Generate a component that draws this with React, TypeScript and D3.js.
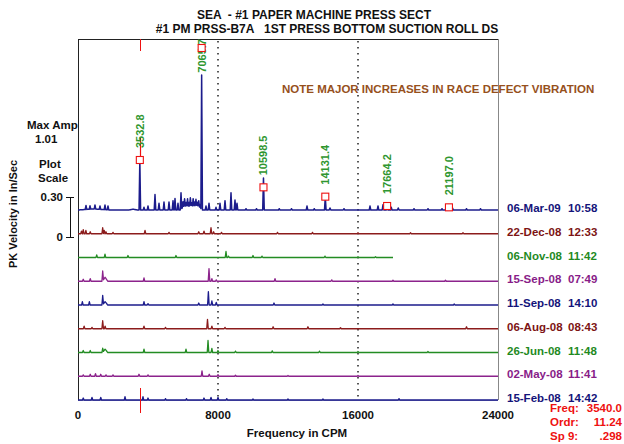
import React, { useEffect, useRef } from 'react';
import * as d3 from 'd3';

// spectra: one waterfall trace per survey date
const dates = ['06-Mar-09', '22-Dec-08', '06-Nov-08', '15-Sep-08', '11-Sep-08', '06-Aug-08', '26-Jun-08', '02-May-08', '15-Feb-08'];
const times = ['10:58', '12:33', '11:42', '07:49', '14:10', '08:43', '11:48', '11:41', '14:42'];
const traceColors = ['#1c1c8c', '#8c1c1c', '#238c23', '#8c238c', '#1c1c8c', '#8c1c1c', '#238c23', '#8c238c', '#1c1c8c'];
const labelColors = ['#14147a', '#7d1414', '#1f8a1f', '#881c88', '#14147a', '#7d1414', '#1f8a1f', '#881c88', '#14147a'];
const traceEnds = [24000, 24000, 18000, 24000, 24000, 24000, 24000, 24000, 24000];

// [cpm, in/sec, half width cpm]
const mar09 = [[900, 0.008, 900], [457, 0.03], [686, 0.025], [971, 0.03], [1257, 0.025], [1543, 0.035], [1714, 0.03], [3150, 0.006, 250],
  [3533, 0.37], [3771, 0.02], [4000, 0.03], [4400, 0.116], [4629, 0.05], [4914, 0.06], [5200, 0.06], [5429, 0.07], [5543, 0.086], [5714, 0.05],
  [5886, 0.124], [6100, 0.035, 250], [6450, 0.03, 300], [6800, 0.03, 300], [6000, 0.04], [6090, 0.05], [6180, 0.03], [6260, 0.06],
  [6340, 0.035], [6420, 0.065], [6500, 0.03], [6580, 0.06], [6660, 0.035], [6740, 0.055], [6820, 0.03], [6900, 0.05], [6980, 0.03],
  [7066, 1.01], [7314, 0.03], [7486, 0.05], [7886, 0.02], [8114, 0.05], [8400, 0.07], [8743, 0.13], [8971, 0.075], [9086, 0.05],
  [9600, 0.01], [10200, 0.01], [10599, 0.24], [11500, 0.01], [12200, 0.01], [13086, 0.03], [13500, 0.01], [14131, 0.1], [14400, 0.015],
  [15200, 0.01], [16686, 0.03], [17143, 0.03], [17429, 0.04], [17664, 0.05], [17900, 0.02], [18300, 0.015], [19200, 0.01], [20000, 0.01],
  [20800, 0.01], [21197, 0.03], [21400, 0.015], [22200, 0.01], [23000, 0.01]];
const dec08 = [[200, 0.02], [300, 0.03], [450, 0.025], [700, 0.015], [1411, 0.045], [1500, 0.025], [1600, 0.015], [2000, 0.01], [3830, 0.025],
  [5200, 0.01], [6900, 0.015], [7200, 0.02], [7600, 0.045], [7750, 0.015], [8200, 0.01], [11400, 0.01], [13400, 0.01], [16000, 0.008],
  [19000, 0.008], [22000, 0.008]];
const nov08 = [[1069, 0.02], [1543, 0.025], [2857, 0.015], [5600, 0.015], [8457, 0.045], [8600, 0.01], [10000, 0.015], [10514, 0.01],
  [14114, 0.01], [16000, 0.006], [17000, 0.006]];
const sep15 = [[300, 0.015], [700, 0.02], [1411, 0.075], [1550, 0.03, 150], [3771, 0.025], [7486, 0.095], [7650, 0.02], [7900, 0.01],
  [11257, 0.02], [14500, 0.01], [18000, 0.008], [21000, 0.008]];
const sep11 = [[250, 0.025], [650, 0.025], [1411, 0.07], [1550, 0.025, 150], [3771, 0.025], [4000, 0.01], [6900, 0.015], [7450, 0.1],
  [7650, 0.03], [7900, 0.02], [11200, 0.015], [14000, 0.008], [18000, 0.008], [21500, 0.008]];
const aug08 = [[350, 0.02], [800, 0.01], [1411, 0.06], [1550, 0.02], [3771, 0.02], [5000, 0.01], [7400, 0.07], [7650, 0.02], [8400, 0.01],
  [11150, 0.015], [13140, 0.015], [15000, 0.008], [22200, 0.015]];
const jun08 = [[300, 0.015], [700, 0.015], [1411, 0.03], [1550, 0.025, 150], [3771, 0.025], [6171, 0.025], [7430, 0.09], [7650, 0.03],
  [8000, 0.015], [9000, 0.01], [11100, 0.012], [13800, 0.01], [16000, 0.008], [20000, 0.008]];
const may08 = [[300, 0.01], [700, 0.015], [1000, 0.02], [1300, 0.015], [1600, 0.01], [2000, 0.01], [3486, 0.015], [4000, 0.01],
  [7086, 0.04], [7500, 0.015], [8000, 0.012], [9000, 0.008], [12000, 0.006], [16000, 0.006]];
const feb08 = [[300, 0.015], [800, 0.02], [1300, 0.02], [2686, 0.025], [3714, 0.025], [4000, 0.015], [5000, 0.01], [6200, 0.01],
  [7200, 0.015], [7600, 0.02], [8000, 0.02], [8500, 0.01], [10000, 0.008], [12000, 0.008], [14000, 0.008], [18343, 0.01]];
const spectra = [mar09, dec08, nov08, sep15, sep11, aug08, jun08, may08, feb08];

const peakFreqs = [3532.8, 7065.7, 10598.5, 14131.4, 17664.2, 21197.0];
const markerAmps = [0.375, 1.215, 0.17, 0.10, 0.03, 0.02];
const freqTicks = [0, 8000, 16000, 24000];
const guideFreqs = [8000, 16000];
const cursorFreq = 3540;
const readout = [['Freq:', '3540.0'], ['Ordr:', '11.24'], ['Sp 9:', '.298']];

const FONT = '"Liberation Sans", Arial, sans-serif';

export default function App() {
  const ref = useRef(null);

  useEffect(() => {
    const svg = d3.select(ref.current);
    svg.selectAll('*').remove();

    const x = d3.scaleLinear().domain([0, 24000]).range([78, 498]);
    const base = d3.scalePoint().domain(dates).range([210, 400]);
    const amp = d3.scaleLinear().domain([0, 0.30]).range([0, 40]);
    const top = 39, bottom = 400;

    const txt = (s, px, py, size, color, anchor = 'start') =>
      svg.append('text').attr('x', px).attr('y', py).attr('font-family', FONT).attr('font-weight', 'bold')
        .attr('font-size', size).attr('fill', color).attr('text-anchor', anchor).text(s);

    // titles
    txt('SEA  - #1 PAPER MACHINE PRESS SECT', 314, 19, 12, '#111', 'middle').attr('xml:space', 'preserve');
    txt('#1 PM PRSS-B7A   1ST PRESS BOTTOM SUCTION ROLL DS', 327, 33, 12, '#111', 'middle').attr('xml:space', 'preserve');

    // frame
    svg.append('line').attr('x1', 78).attr('x2', 498).attr('y1', top + 0.5).attr('y2', top + 0.5).attr('stroke', '#222');
    svg.append('line').attr('x1', 78.5).attr('x2', 78.5).attr('y1', top).attr('y2', bottom).attr('stroke', '#222');
    svg.append('line').attr('x1', 498.5).attr('x2', 498.5).attr('y1', top).attr('y2', bottom).attr('stroke', '#888');
    svg.append('line').attr('x1', 78).attr('x2', 498).attr('y1', bottom + 0.5).attr('y2', bottom + 0.5).attr('stroke', '#8888bb');

    guideFreqs.forEach(f => {
      svg.append('line').attr('x1', x(f)).attr('x2', x(f)).attr('y1', top + 2).attr('y2', bottom)
        .attr('stroke', '#111').attr('stroke-width', 1.4).attr('stroke-dasharray', '1.5 4.5');
    });

    // traces
    const line = d3.line().x(d => x(d[0])).y(d => d[1]);
    spectra.forEach((peaks, i) => {
      const end = traceEnds[i];
      const fs = d3.range(0, end + 1, 12);
      peaks.forEach(p => { const w = p[2] || 45; fs.push(p[0], p[0] - w, p[0] + w); });
      const pts = fs.filter(f => f >= 0 && f <= end).sort((a, b) => a - b).map(f => {
        const v = d3.sum(peaks, p => { const w = p[2] || 45; return p[1] * Math.max(0, 1 - Math.abs(f - p[0]) / w); });
        return [f, base(dates[i]) - amp(v)];
      });
      svg.append('path').attr('d', line(pts)).attr('fill', 'none').attr('stroke', traceColors[i])
        .attr('stroke-width', i === 0 ? 1.5 : 1.3).attr('stroke-linejoin', 'round');
      txt(dates[i], 507, base(dates[i]) + 2, 11.5, labelColors[i]);
      txt(times[i], 568, base(dates[i]) + 2, 11.5, labelColors[i]);
    });

    // cursor
    const cx = Math.round(x(cursorFreq)) + 0.5;
    svg.append('line').attr('x1', cx).attr('x2', cx).attr('y1', top).attr('y2', top + 12).attr('stroke', '#ee1111');
    svg.append('line').attr('x1', cx).attr('x2', cx).attr('y1', bottom - 12).attr('y2', bottom + 13).attr('stroke', '#ee1111');
    const y0 = base(dates[0]);
    svg.append('line').attr('x1', cx).attr('x2', cx).attr('y1', y0 - amp(markerAmps[0]) - 22).attr('y2', y0 - amp(markerAmps[0]) - 3)
      .attr('stroke', '#ee1111').attr('stroke-width', 1.2);

    // peak markers + labels
    peakFreqs.forEach((f, i) => {
      const my = y0 - amp(markerAmps[i]);
      svg.append('rect').attr('x', x(f) - 3.5).attr('y', my - 3.5).attr('width', 7).attr('height', 7)
        .attr('fill', '#fff').attr('stroke', '#ee1111').attr('stroke-width', 1.1);
      const t = svg.append('text').attr('font-family', FONT).attr('font-weight', 'bold').attr('font-size', 11)
        .attr('fill', '#2f962f').attr('dy', '0.36em').text(f.toFixed(1));
      const len = t.node().getComputedTextLength();
      const ye = Math.max(my - 12, top + len);
      t.attr('x', x(f)).attr('y', ye).attr('transform', `rotate(-90, ${x(f)}, ${ye})`);
    });
    // markers stay above the labels
    svg.selectAll('rect').raise();

    txt('NOTE MAJOR INCREASES IN RACE DEFECT VIBRATION', 282, 93, 11.5, '#96501c');

    // x axis
    freqTicks.forEach(f => txt(String(f), x(f), 419, 11.5, '#111', 'middle'));
    txt('Frequency in CPM', 297, 437, 11.5, '#111', 'middle');

    // left scale block
    txt('Max Amp', 27, 129, 11.5, '#111');
    txt('1.01', 35, 143, 11.5, '#111');
    txt('Plot', 39, 168, 11.5, '#111');
    txt('Scale', 38, 182, 11.5, '#111');
    const sb = 237;
    svg.append('line').attr('x1', 70.5).attr('x2', 70.5).attr('y1', sb - amp(0.30)).attr('y2', sb).attr('stroke', '#111');
    [0, 0.30].forEach(v => {
      svg.append('line').attr('x1', 66).attr('x2', 74).attr('y1', sb - amp(v) + 0.5).attr('y2', sb - amp(v) + 0.5).attr('stroke', '#111');
      txt(v === 0 ? '0' : v.toFixed(2), 63, sb - amp(v) + 4, 11.5, '#111', 'end');
    });
    txt('PK Velocity in In/Sec', 0, 0, 11, '#111', 'middle').attr('transform', 'translate(17,214) rotate(-90)');

    // cursor readout
    readout.forEach((r, i) => {
      txt(r[0], 550, 412 + i * 14, 11.5, '#ee1111');
      txt(r[1], 622, 412 + i * 14, 11.5, '#ee1111', 'end');
    });
  }, []);

  return (
    <svg ref={ref} width={624} height={444} style={{ position: 'absolute', left: 0, top: 0, background: '#fff' }} />
  );
}
